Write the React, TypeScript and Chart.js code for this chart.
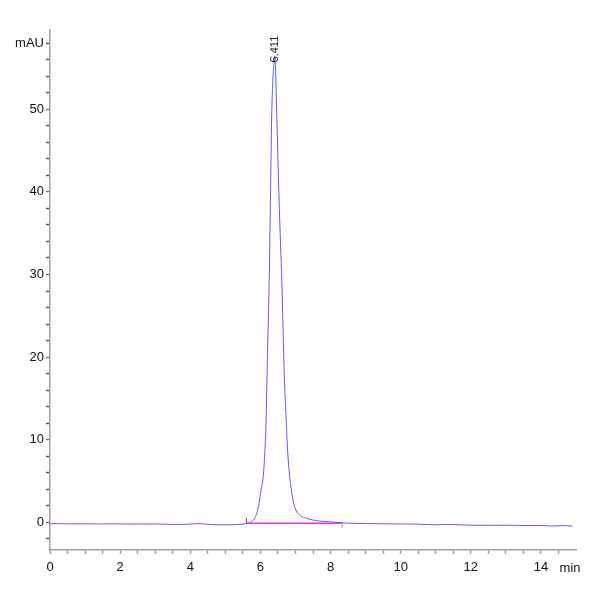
import React, { useEffect, useRef } from "react";
import { Chart, registerables } from "chart.js";

Chart.register(...registerables);

// Chromatogram trace (time in min, signal in mAU)
const times = [
  0, 0.5, 1.0, 1.5, 1.8, 2.0, 2.5, 3.0, 3.5, 4.0, 4.2, 4.4, 4.8, 5.2, 5.5, 5.65, 5.75, 5.85,
  5.95, 6.02, 6.08, 6.12, 6.16, 6.2, 6.25, 6.29, 6.32, 6.36, 6.39, 6.411, 6.43, 6.47, 6.54,
  6.61, 6.68, 6.74, 6.78, 6.87, 6.95, 7.01, 7.15, 7.3, 7.6, 7.87, 8.3, 8.5, 9.0, 9.5, 10.0,
  10.5, 11.0, 11.2, 11.7, 12.0, 12.5, 13.0, 13.5, 14.0, 14.3, 14.6, 14.9,
];
const signal = [
  -0.15, -0.18, -0.18, -0.2, -0.18, -0.2, -0.2, -0.2, -0.25, -0.22, -0.15, -0.2, -0.3, -0.3,
  -0.2, -0.1, 0.1, 0.6, 2.0, 4.0, 5.5, 8.0, 12, 20, 29, 40, 48.7, 54, 55.6, 56.4, 55.2, 48.7, 38,
  29.3, 18, 12, 8.4, 4.3, 2.3, 1.5, 0.8, 0.5, 0.2, 0.1, -0.05, -0.1, -0.15, -0.18, -0.2, -0.22,
  -0.3, -0.25, -0.3, -0.35, -0.35, -0.35, -0.38, -0.38, -0.45, -0.4, -0.45,
];

// Integration baseline
const baselineTimes = [5.6, 8.33];
const baselineValues = [-0.1, -0.1];

// Peak annotation
const peakTime = 6.411;
const peakHeight = 56.4;
const peakLabel = "6.411";

// Axis ticks
const xTickValues = Array.from({ length: 30 }, (_, i) => i * 0.5);
const xLabelValues = [0, 2, 4, 6, 8, 10, 12, 14];
const yTickValues = Array.from({ length: 31 }, (_, i) => -2 + i * 2);
const yLabelValues = [0, 10, 20, 30, 40, 50];
const yUnitTick = 58;
const yUnitLabel = "mAU";
const xUnitLabel = "min";

const FONT = "'Liberation Sans', Arial, sans-serif";
const AXIS = "#a0a0a0";

const annotations = {
  id: "annotations",
  afterDatasetsDraw(chart: any) {
    const { ctx, scales } = chart;
    const xs = scales.x;
    const ys = scales.y;
    ctx.save();
    // peak label
    const px = xs.getPixelForValue(peakTime);
    const py = ys.getPixelForValue(peakHeight);
    ctx.translate(px, py + 6);
    ctx.rotate(-Math.PI / 2);
    ctx.fillStyle = "#222";
    ctx.font = `11px ${FONT}`;
    ctx.textAlign = "left";
    ctx.textBaseline = "middle";
    ctx.fillText(peakLabel, 0, 0);
    ctx.restore();

    ctx.save();
    // integration marks
    ctx.strokeStyle = "#555";
    ctx.lineWidth = 1;
    const sx = xs.getPixelForValue(baselineTimes[0]);
    const sy = ys.getPixelForValue(baselineValues[0]);
    ctx.beginPath();
    ctx.moveTo(sx, sy);
    ctx.lineTo(sx, sy - 5);
    ctx.stroke();
    const ex = xs.getPixelForValue(baselineTimes[1]);
    const ey = ys.getPixelForValue(baselineValues[1]);
    ctx.strokeStyle = "#999";
    ctx.beginPath();
    ctx.moveTo(ex, ey);
    ctx.lineTo(ex, ey + 5);
    ctx.stroke();

    // x unit label
    ctx.fillStyle = "#111";
    ctx.font = `13px ${FONT}`;
    ctx.textAlign = "center";
    ctx.textBaseline = "top";
    ctx.fillText(xUnitLabel, xs.getPixelForValue(14.83), xs.bottom - 50 + 12);
    ctx.restore();
  },
};

export default function App() {
  const ref = useRef<HTMLCanvasElement>(null);
  useEffect(() => {
    if (!ref.current) return;
    const trace = times.map((t, i) => ({ x: t, y: signal[i] }));
    const base = baselineTimes.map((t, i) => ({ x: t, y: baselineValues[i] }));
    const chart = new Chart(ref.current, {
      type: "line",
      data: {
        datasets: [
          {
            data: base,
            borderColor: "#f030e8",
            borderWidth: 1.5,
            pointRadius: 0,
          },
          {
            data: trace,
            borderColor: "rgb(90,90,255)",
            borderWidth: 1,
            pointRadius: 0,
            cubicInterpolationMode: "monotone",
          },
        ],
      },
      options: {
        animation: false,
        responsive: true,
        maintainAspectRatio: false,
        layout: { padding: { top: 30, right: 24, left: 0, bottom: 0 } },
        plugins: { legend: { display: false }, tooltip: { enabled: false } },
        scales: {
          x: {
            type: "linear",
            min: 0,
            max: 15,
            afterBuildTicks: (s: any) => {
              s.ticks = xTickValues.map((v) => ({ value: v }));
            },
            afterFit: (s: any) => {
              s.height = 50;
            },
            ticks: {
              autoSkip: false,
              maxRotation: 0,
              padding: 6,
              color: "#111",
              font: { family: FONT, size: 13 },
              callback: (v: any) => (xLabelValues.includes(Number(v)) ? String(v) : ""),
            },
            grid: {
              drawOnChartArea: false,
              tickLength: 4,
              tickColor: AXIS,
              tickWidth: 1.5,
            },
            border: { color: AXIS, width: 1.5 },
          },
          y: {
            type: "linear",
            min: -3.35,
            max: 59.6,
            afterBuildTicks: (s: any) => {
              s.ticks = yTickValues.map((v) => ({ value: v }));
            },
            afterFit: (s: any) => {
              s.width = 50;
            },
            ticks: {
              autoSkip: false,
              padding: 2,
              color: "#111",
              font: { family: FONT, size: 13 },
              callback: (v: any) => {
                const n = Number(v);
                if (n === yUnitTick) return yUnitLabel;
                return yLabelValues.includes(n) ? String(n) : "";
              },
            },
            grid: {
              drawOnChartArea: false,
              tickLength: 4,
              tickColor: (c: any) =>
                c.tick && yLabelValues.includes(c.tick.value) ? "#777" : "#555",
              tickWidth: 1.5,
            },
            border: { color: AXIS, width: 1.5 },
          },
        },
      },
      plugins: [annotations],
    });
    return () => chart.destroy();
  }, []);
  return (
    <div style={{ position: "fixed", left: 0, top: 0, width: 600, height: 600, background: "#fff" }}>
      <canvas ref={ref} />
    </div>
  );
}
